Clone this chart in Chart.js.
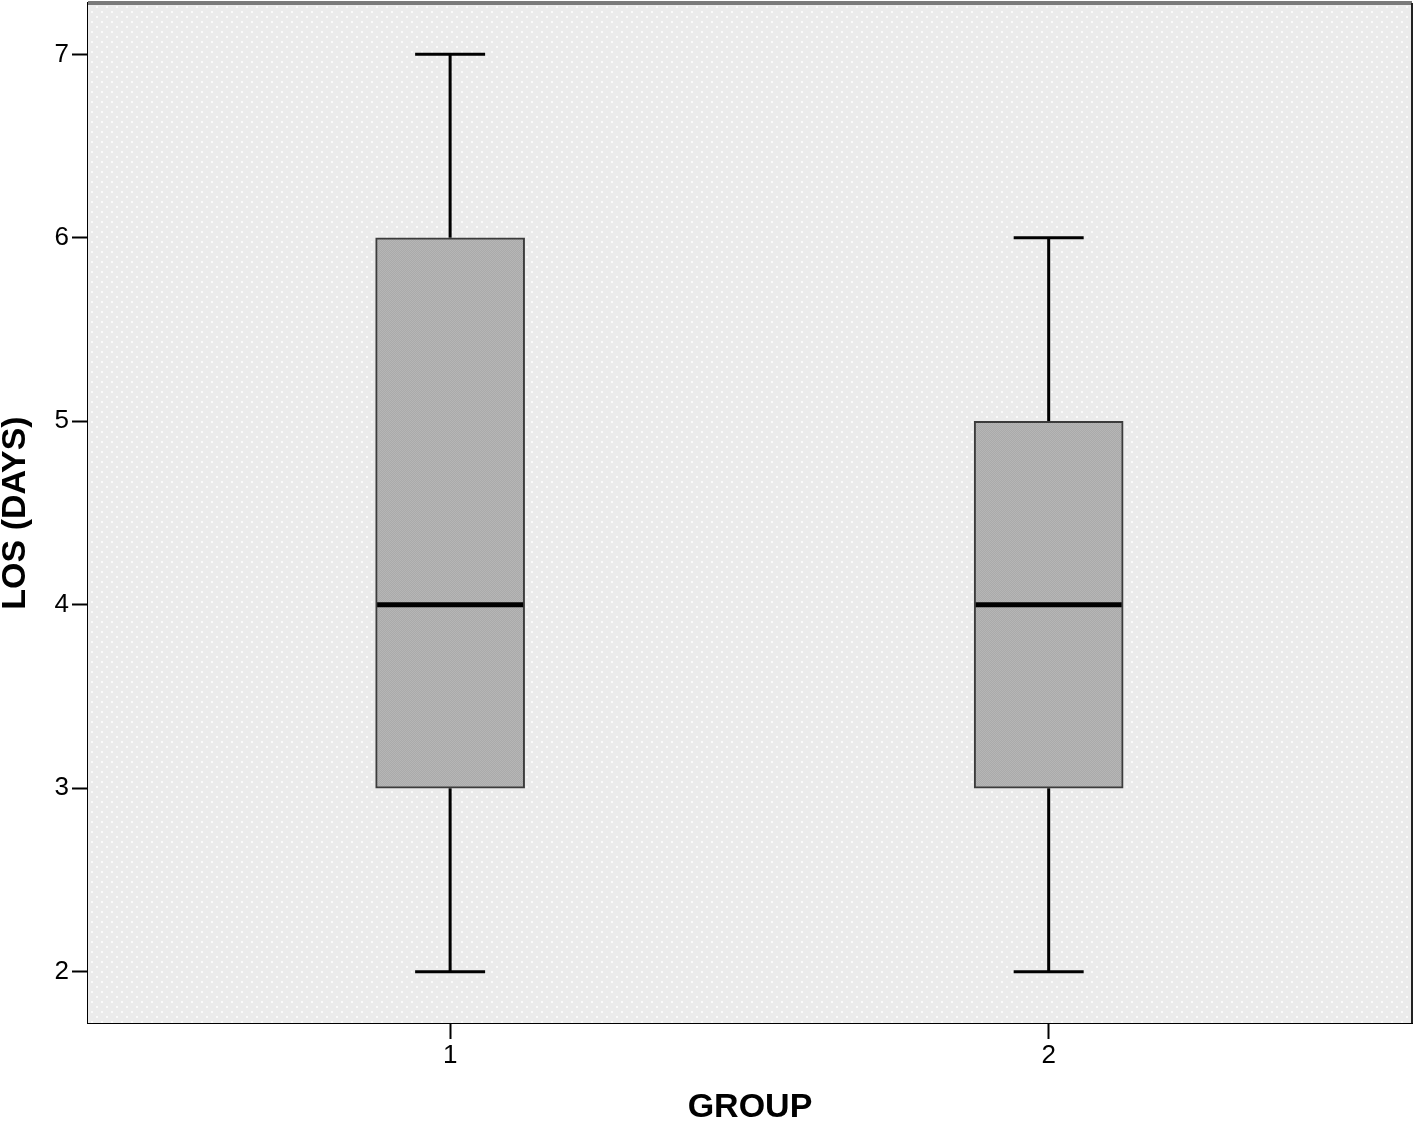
<!DOCTYPE html>
<html>
<head>
<meta charset="utf-8">
<title>LOS by group</title>
<script src="https://cdn.jsdelivr.net/npm/chart.js@4.4.1/dist/chart.umd.min.js"></script>
<style>
  html, body { margin: 0; padding: 0; background: #fff; }
  #wrap { width: 1418px; height: 1125px; }
</style>
</head>
<body>
<div id="wrap"><canvas id="boxChart" width="1418" height="1125"></canvas></div>
<script>
// five-number summaries
var groups = [1, 2];
var mins = [2, 2];
var q1s = [3, 3];
var medians = [4, 4];
var q3s = [6, 5];
var maxs = [7, 6];
var yTicks = [2, 3, 4, 5, 6, 7];

// small tiled patterns for the SPSS-style textures
function makePattern(ctx, size, bg, dots, dotColor) {
  var c = document.createElement('canvas');
  c.width = size; c.height = size;
  var g = c.getContext('2d');
  g.fillStyle = bg;
  g.fillRect(0, 0, size, size);
  g.fillStyle = dotColor;
  dots.forEach(function (d) { g.fillRect(d[0], d[1], d[2], d[2]); });
  return ctx.createPattern(c, 'repeat');
}

var canvas = document.getElementById('boxChart');
var ctx = canvas.getContext('2d');
var plotBg = makePattern(ctx, 10, '#ebebeb', [[1, 1, 2], [6, 6, 2]], '#fafafa');
var boxFill = makePattern(ctx, 2, '#aaaaaa', [[0, 0, 1], [1, 1, 1]], '#b6b6b6');

var boxPlugin = {
  id: 'boxPlugin',
  beforeDatasetsDraw: function (chart) {
    var a = chart.chartArea, c = chart.ctx;
    c.save();
    c.fillStyle = plotBg;
    c.fillRect(a.left, a.top, a.right - a.left, a.bottom - a.top);
    // whiskers
    var xs = chart.scales.x, ys = chart.scales.y;
    c.strokeStyle = '#000';
    c.lineWidth = 3;
    groups.forEach(function (g, i) {
      var x = xs.getPixelForValue(g);
      c.beginPath();
      c.moveTo(x, ys.getPixelForValue(mins[i]));
      c.lineTo(x, ys.getPixelForValue(q1s[i]));
      c.moveTo(x, ys.getPixelForValue(q3s[i]));
      c.lineTo(x, ys.getPixelForValue(maxs[i]));
      c.moveTo(x - 35, ys.getPixelForValue(mins[i]));
      c.lineTo(x + 35, ys.getPixelForValue(mins[i]));
      c.moveTo(x - 35, ys.getPixelForValue(maxs[i]));
      c.lineTo(x + 35, ys.getPixelForValue(maxs[i]));
      c.stroke();
    });
    c.restore();
  },
  afterDatasetsDraw: function (chart) {
    var a = chart.chartArea, c = chart.ctx;
    var xs = chart.scales.x, ys = chart.scales.y;
    c.save();
    // medians
    c.strokeStyle = '#000';
    c.lineWidth = 5;
    groups.forEach(function (g, i) {
      var x = xs.getPixelForValue(g);
      var y = ys.getPixelForValue(medians[i]);
      c.beginPath();
      c.moveTo(x - 73, y);
      c.lineTo(x + 73, y);
      c.stroke();
    });
    // frame: grey top, dark right
    c.strokeStyle = '#7a7a7a';
    c.lineWidth = 4;
    c.beginPath();
    c.moveTo(a.left, a.top);
    c.lineTo(a.right, a.top);
    c.stroke();
    c.strokeStyle = '#222';
    c.lineWidth = 2;
    c.beginPath();
    c.moveTo(a.right, a.top);
    c.lineTo(a.right, a.bottom);
    c.stroke();
    c.restore();
  }
};

var fontFam = 'Liberation Sans, Arial, sans-serif';

new Chart(canvas, {
  type: 'bar',
  data: {
    datasets: [{
      label: 'LOS (DAYS)',
      data: groups.map(function (g, i) { return { x: g, y: [q1s[i], q3s[i]] }; }),
      backgroundColor: boxFill,
      borderColor: '#3c3c3c',
      borderWidth: 2,
      borderSkipped: false,
      barThickness: 149
    }]
  },
  options: {
    responsive: false,
    animation: false,
    layout: { padding: { top: 3, right: 6, left: 0, bottom: 0 } },
    plugins: { legend: { display: false }, tooltip: { enabled: false } },
    scales: {
      x: {
        type: 'linear',
        min: 0.395,
        max: 2.607,
        offset: false,
        afterBuildTicks: function (s) { s.ticks = groups.map(function (v) { return { value: v }; }); },
        afterFit: function (s) { s.height = 102; s.paddingLeft = 0; s.paddingRight = 0; },
        grid: { offset: false, drawOnChartArea: false, tickLength: 16, tickWidth: 2, tickColor: '#000' },
        border: { display: true, color: '#000', width: 2 },
        ticks: { color: '#000', padding: 1, font: { family: fontFam, size: 26 } },
        title: {
          display: true, text: 'GROUP', color: '#000', padding: { top: 1, bottom: 0 },
          font: { family: fontFam, size: 34, weight: 'bold', lineHeight: 1 }
        }
      },
      y: {
        min: 1.72,
        max: 7.28,
        afterBuildTicks: function (s) { s.ticks = yTicks.map(function (v) { return { value: v }; }); },
        afterFit: function (s) { s.width = 88; s.paddingTop = 0; s.paddingBottom = 0; },
        grid: { drawOnChartArea: false, tickLength: 16, tickWidth: 2, tickColor: '#000' },
        border: { display: true, color: '#000', width: 2 },
        ticks: { color: '#000', padding: 3, font: { family: fontFam, size: 26 } },
        title: {
          display: true, text: 'LOS (DAYS)', color: '#000', padding: { top: 0, bottom: 0 },
          font: { family: fontFam, size: 34, weight: 'bold', lineHeight: 0.9 }
        }
      }
    }
  },
  plugins: [boxPlugin]
});
</script>
</body>
</html>
